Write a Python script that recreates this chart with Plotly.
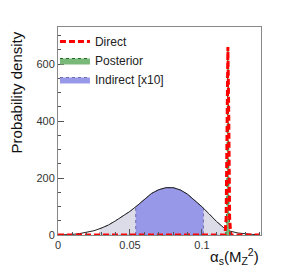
import numpy as np
import plotly.graph_objects as go

# ---- data ----
indirect_x = [0.000, 0.005, 0.010, 0.015, 0.020, 0.025, 0.030, 0.035, 0.040, 0.045,
              0.050, 0.055, 0.060, 0.065, 0.070, 0.075, 0.080, 0.085, 0.090, 0.095,
              0.100, 0.105, 0.110, 0.115, 0.120, 0.125, 0.130, 0.135, 0.140]
indirect_y = [0, 0, 2, 5, 9, 15, 24, 35, 50, 65,
              83, 103, 126, 146, 159, 166, 166, 158, 143, 122,
              99, 74, 48, 26, 13, 7, 4, 2, 1]

direct_x = [0.000, 0.1160, 0.1168, 0.1174, 0.1180, 0.1186, 0.1192, 0.1200, 0.140]
direct_y = [0, 0, 60, 420, 660, 420, 60, 0, 0]

posterior_x = [0.1165, 0.1172, 0.1176, 0.1180, 0.1184, 0.1188, 0.1195]
posterior_y = [0, 80, 450, 660, 450, 80, 0]

interval_95 = [0.029, 0.117]
interval_68 = [0.054, 0.101]

y_ticks = [0, 200, 400, 600]
x_ticks = [0, 0.05, 0.1]
x_tick_labels = ["0", "0.05", "0.1"]

FONT = "Liberation Sans, Arial, sans-serif"


def band(lo, hi):
    xs = [lo] + [x for x in indirect_x if lo < x < hi] + [hi]
    ys = list(np.interp(xs, indirect_x, indirect_y))
    return [lo] + xs + [hi, lo], [0] + ys + [0, 0]


fig = go.Figure()

bx, by = band(*interval_95)
fig.add_trace(go.Scatter(x=bx, y=by, mode="lines", fill="toself",
                         fillcolor="#dcdce8", line=dict(color="#9a9aaa", width=1, dash="dot"),
                         showlegend=False, hoverinfo="skip"))

bx, by = band(*interval_68)
fig.add_trace(go.Scatter(x=bx, y=by, mode="lines", fill="toself",
                         fillcolor="#9898e8", line=dict(color="#6a6ab0", width=1, dash="dot"),
                         name="Indirect [x10]", legendrank=3))

fig.add_trace(go.Scatter(x=indirect_x, y=indirect_y, mode="lines",
                         line=dict(color="#222222", width=1), showlegend=False,
                         hoverinfo="skip"))

fig.add_trace(go.Scatter(x=posterior_x, y=posterior_y, mode="lines", fill="toself",
                         fillcolor="#78b878", line=dict(color="#1e6a1e", width=1, dash="dot"),
                         name="Posterior", legendrank=2))

fig.add_trace(go.Scatter(x=direct_x, y=direct_y, mode="lines",
                         line=dict(color="#ff0000", width=3, dash="6px,3px"),
                         name="Direct", legendrank=1))

# the page body keeps its default 8px margin, so the figure is sized to fit
fig.update_layout(
    width=275, height=261,
    margin=dict(l=50, r=22, t=19, b=34, autoexpand=False),
    paper_bgcolor="white", plot_bgcolor="white",
    font=dict(family=FONT, size=11, color="#333333"),
    showlegend=True,
    legend=dict(x=-0.015, y=1.0, xanchor="left", yanchor="top",
                bgcolor="rgba(0,0,0,0)", font=dict(size=12, color="#222222"),
                itemwidth=30, tracegroupgap=0),
    xaxis=dict(range=[0, 0.141], tickvals=x_ticks, ticktext=x_tick_labels,
               ticks="inside", ticklen=6, tickcolor="#555555", automargin=False,
               showline=True, linecolor="#888888", mirror=True, showgrid=False,
               zeroline=False,
               minor=dict(dtick=0.01, ticks="inside", ticklen=3, tickcolor="#555555")),
    yaxis=dict(range=[0, 730], tickvals=y_ticks, ticks="inside", ticklen=6,
               tickcolor="#555555", showline=True, linecolor="#888888", mirror=True,
               showgrid=False, zeroline=False, automargin=False,
               minor=dict(dtick=50, ticks="inside", ticklen=3, tickcolor="#555555")),
    annotations=[
        dict(text="Probability density", textangle=-90, xref="paper", yref="paper",
             x=-0.205, y=0.99, xanchor="center", yanchor="top", showarrow=False,
             font=dict(size=15, color="#111111")),
        dict(text="α<sub>s</sub>(M<sub>Z</sub><sup>2</sup>)", xref="paper", yref="paper",
             x=1.0, y=-0.163, xanchor="right", yanchor="bottom", showarrow=False,
             font=dict(size=15, color="#111111")),
    ],
)

fig.write_html("out.html")
